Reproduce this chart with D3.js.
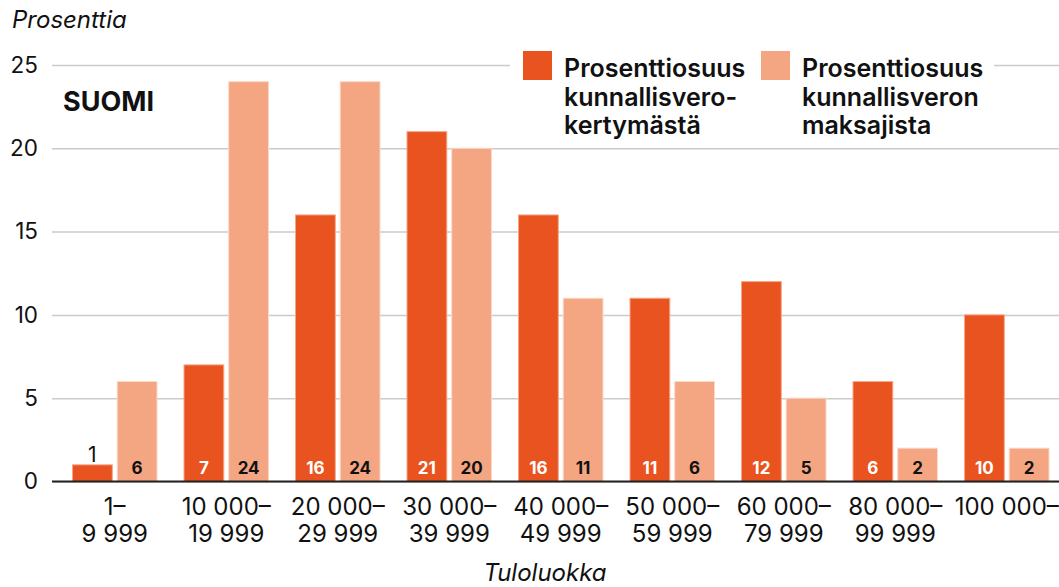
<!DOCTYPE html>
<html>
<head>
<meta charset="utf-8">
<script src="https://cdn.jsdelivr.net/npm/d3@7"></script>
<style>
body { margin: 0; background: #fff; }
svg { font-family: Inter, "Noto Sans", sans-serif; display: block; }
</style>
</head>
<body>
<svg width="1059" height="587"></svg>
<script>
var categories = ["1–\n9 999", "10 000–\n19 999", "20 000–\n29 999", "30 000–\n39 999",
  "40 000–\n49 999", "50 000–\n59 999", "60 000–\n79 999", "80 000–\n99 999", "100 000–"];
var kertyma = [1, 7, 16, 21, 16, 11, 12, 6, 10];
var maksajat = [6, 24, 24, 20, 11, 6, 5, 2, 2];
var yTicks = [0, 5, 10, 15, 20, 25];
var seriesNames = ["Prosenttiosuus\nkunnallisvero-\nkertymästä", "Prosenttiosuus\nkunnallisveron\nmaksajista"];
var colors = ["#e8531f", "#f4a582"];

var svg = d3.select("svg");

var x = d3.scaleBand().domain(categories).range([59, 1062.5]).padding(0);
var inner = d3.scaleBand().domain([0, 1]).range([13.5, 98]).paddingInner(0.11);
var y = d3.scaleLinear().domain([0, 25]).range([481.5, 65]);

// grid + y labels
var yAxis = svg.append("g")
    .attr("transform", "translate(52,0)")
    .call(d3.axisLeft(y).tickValues(yTicks).tickSize(-(1059 - 52)).tickPadding(14));
yAxis.select(".domain").remove();
yAxis.selectAll("line").attr("stroke", "#cbcbcb").attr("stroke-width", 1.5);
yAxis.selectAll("text").attr("font-size", 22.5).attr("fill", "#111").attr("font-family", "Inter");

// legend background hides gridline
svg.append("rect").attr("x", 510).attr("y", 42).attr("width", 484).attr("height", 100).attr("fill", "#fff");

var data = categories.map(function(c, i) { return {cat: c, vals: [kertyma[i], maksajat[i]]}; });

var groups = svg.selectAll(".grp").data(data).enter().append("g")
    .attr("class", "grp")
    .attr("transform", function(d) { return "translate(" + x(d.cat) + ",0)"; });

groups.selectAll("rect").data(function(d) { return d.vals; }).enter().append("rect")
    .attr("x", function(d, i) { return inner(i); })
    .attr("width", inner.bandwidth())
    .attr("y", function(d) { return y(d); })
    .attr("height", function(d) { return y(0) - y(d); })
    .attr("fill", function(d, i) { return colors[i]; })
    .attr("stroke", function(d, i) { return i === 0 ? "#f6a585" : "#fbd8c8"; })
    .attr("stroke-width", 1);

// small bars get their label above the bar
groups.selectAll("text.val").data(function(d) { return d.vals; }).enter().append("text")
    .attr("class", "val")
    .attr("x", function(d, i) { return inner(i) + inner.bandwidth() / 2; })
    .attr("y", function(d) { return d < 2 ? y(d) - 3 : 474; })
    .attr("text-anchor", "middle")
    .attr("font-size", function(d) { return d < 2 ? 21 : 17; })
    .attr("font-weight", function(d) { return d < 2 ? 400 : 700; })
    .attr("fill", function(d, i) { return (i === 0 && d >= 2) ? "#fff" : "#111"; })
    .text(function(d) { return d; });

// zero line
svg.append("line").attr("x1", 52).attr("x2", 1059).attr("y1", y(0)).attr("y2", y(0))
    .attr("stroke", "#222").attr("stroke-width", 2);

// x labels
svg.selectAll(".xl").data(categories).enter().append("text")
    .attr("class", "xl")
    .attr("text-anchor", "middle")
    .attr("font-size", 24)
    .attr("fill", "#111")
    .each(function(d) {
      var t = d3.select(this);
      d.split("\n").forEach(function(line, j) {
        t.append("tspan").attr("x", x(d) + x.bandwidth() / 2).attr("y", 515 + j * 27).text(line);
      });
    });

// legend
var leg = svg.selectAll(".leg").data(seriesNames).enter().append("g")
    .attr("class", "leg")
    .attr("transform", function(d, i) { return "translate(" + (523 + i * 238) + ",51)"; });
leg.append("rect").attr("width", 29).attr("height", 29)
    .attr("fill", function(d, i) { return colors[i]; });
leg.append("text")
    .attr("font-size", 25).attr("font-weight", 600).attr("fill", "#111")
    .each(function(d) {
      var t = d3.select(this);
      d.split("\n").forEach(function(line, j) {
        t.append("tspan").attr("x", 41).attr("y", 26 + j * 28.5).text(line);
      });
    });

svg.append("text").attr("x", 63).attr("y", 111).attr("font-size", 27).attr("font-weight", 700)
    .attr("fill", "#111").text("SUOMI");

svg.append("text").attr("x", 12).attr("y", 28).attr("font-size", 24).attr("font-style", "italic")
    .attr("fill", "#111").text("Prosenttia");

svg.append("text").attr("x", 545).attr("y", 581).attr("font-size", 24).attr("font-style", "italic")
    .attr("text-anchor", "middle").attr("fill", "#111").text("Tuloluokka");
</script>
</body>
</html>
